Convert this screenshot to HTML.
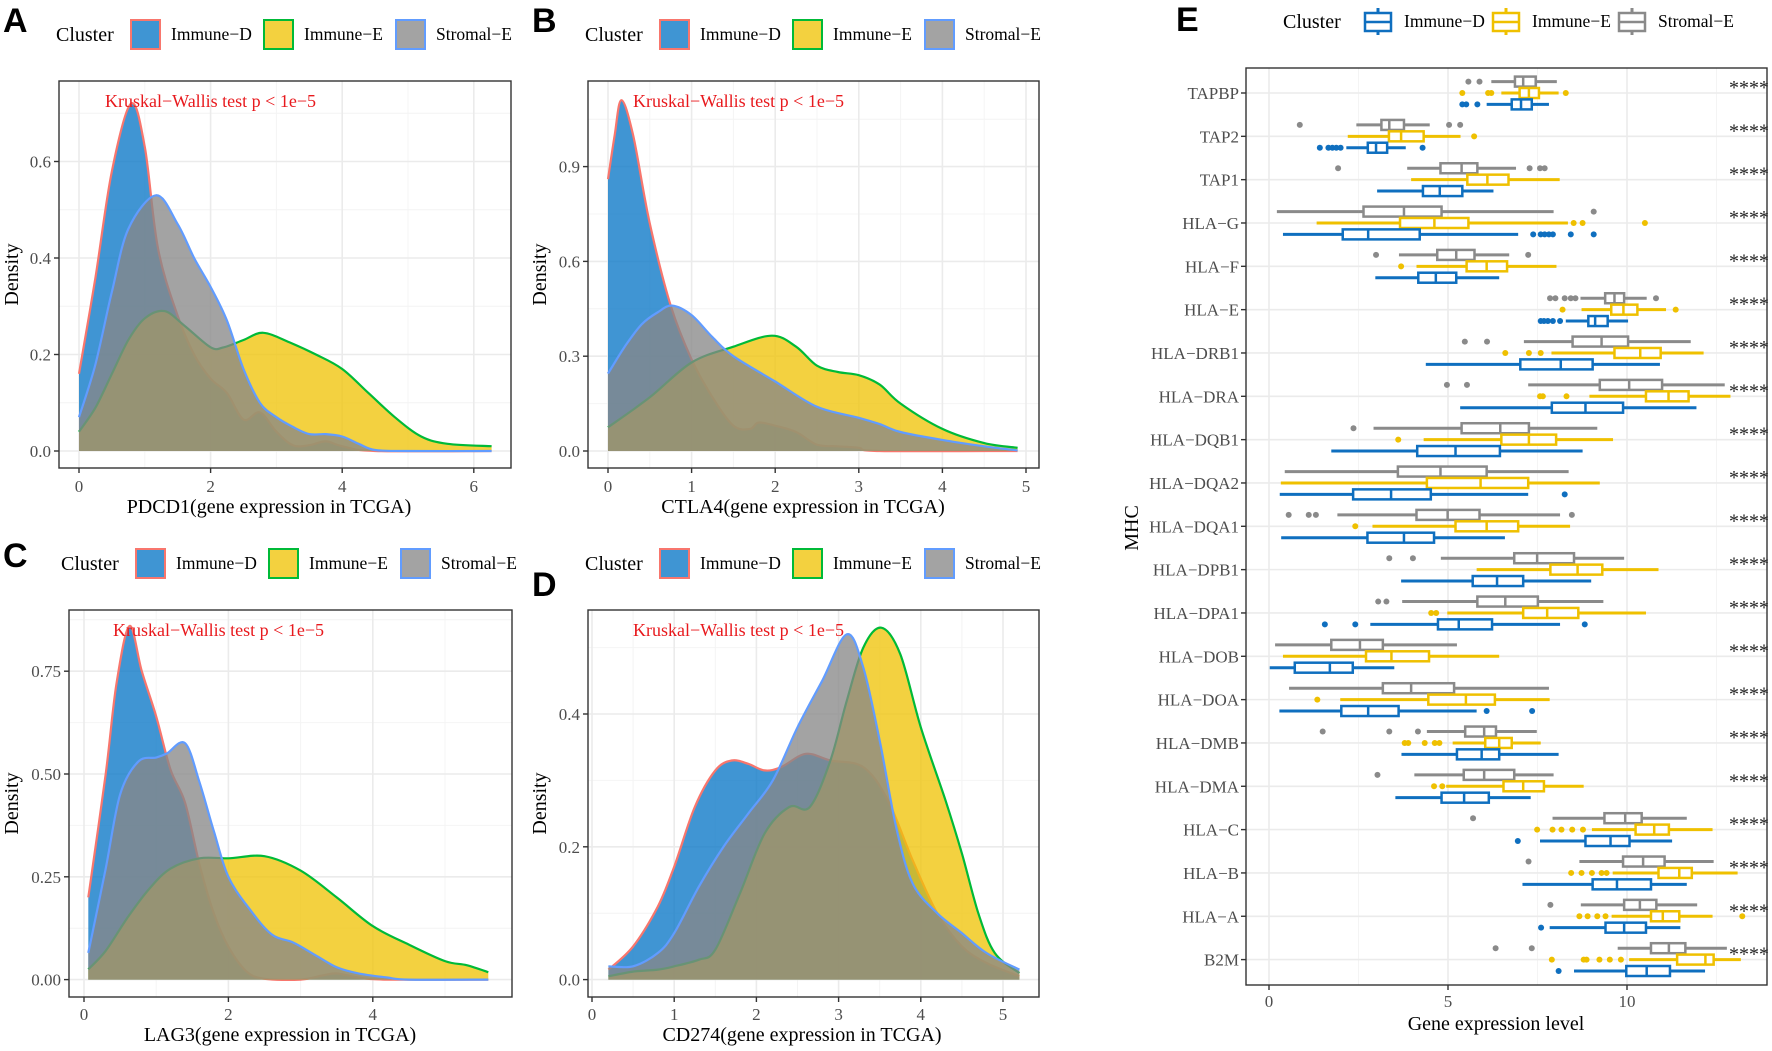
<!DOCTYPE html>
<html><head><meta charset="utf-8">
<style>
html,body{margin:0;padding:0;background:#fff;}
svg{display:block;font-family:"Liberation Serif",serif;}
.tk{font-size:17px;fill:#4d4d4d;}
.ttl{font-size:20px;fill:#000;}
.leg{font-size:17.5px;fill:#000;}
.lt{font-family:"Liberation Sans",sans-serif;font-weight:bold;font-size:34px;fill:#000;}
.kw{font-size:18px;fill:#e8191d;}
.sig{font-size:20px;fill:#222;}
</style></head>
<body>
<svg id="fig" width="1772" height="1051" viewBox="0 0 1772 1051" xmlns="http://www.w3.org/2000/svg">
<g id="marks"></g>
<text class="lt" x="3" y="32">A</text>
<text class="lt" x="532" y="32">B</text>
<text class="lt" x="3" y="567">C</text>
<text class="lt" x="532" y="596">D</text>
<text class="lt" x="1176" y="31">E</text>
</svg>
<script>
// ---------- Panel A: PDCD1 ----------
const aDX=[0,0.25,0.5,0.79,1.0,1.2,1.5,1.75,2.0,2.25,2.5,2.75,3.0,3.25,3.5,3.75,4.0,4.5,6.27];
const aDY=[0.16,0.36,0.58,0.72,0.63,0.42,0.28,0.2,0.15,0.12,0.065,0.08,0.04,0.012,0.012,0.02,0.01,0,0];
const aEX=[0,0.25,0.5,0.75,1.0,1.3,1.6,2.0,2.2,2.5,2.8,3.2,3.6,4.0,4.4,4.8,5.2,5.6,6.27];
const aEY=[0.04,0.09,0.16,0.23,0.275,0.29,0.26,0.215,0.215,0.23,0.245,0.225,0.2,0.17,0.12,0.07,0.03,0.015,0.01];
const aSX=[0,0.25,0.5,0.75,1.17,1.5,1.75,2.0,2.25,2.5,2.75,3.0,3.25,3.5,3.75,4.0,4.25,4.5,5,6.27];
const aSY=[0.07,0.18,0.33,0.46,0.53,0.47,0.4,0.34,0.27,0.17,0.1,0.07,0.05,0.035,0.035,0.03,0.015,0.002,0,0];
const aXTicks=[0,2,4,6];
const aYTicks=[0,0.2,0.4,0.6];
// ---------- Panel B: CTLA4 ----------
const bDX=[0,0.08,0.16,0.3,0.5,0.75,1.0,1.25,1.5,1.7,1.8,2.0,2.25,2.5,2.75,3.0,3.25,4.9];
const bDY=[0.86,1.0,1.11,1.0,0.72,0.46,0.29,0.17,0.08,0.07,0.09,0.08,0.06,0.02,0.015,0.01,0,0];
const bEX=[0,0.5,1.0,1.5,1.96,2.25,2.5,2.75,3.0,3.25,3.5,4.0,4.5,4.9];
const bEY=[0.075,0.17,0.28,0.33,0.365,0.33,0.27,0.25,0.24,0.21,0.15,0.07,0.025,0.01];
const bSX=[0,0.2,0.4,0.6,0.77,1.0,1.25,1.5,2.0,2.5,3.0,3.25,3.5,4.0,4.5,4.9];
const bSY=[0.245,0.33,0.4,0.44,0.46,0.43,0.36,0.3,0.22,0.14,0.105,0.085,0.06,0.035,0.015,0.002];
const bXTicks=[0,1,2,3,4,5];
const bYTicks=[0,0.3,0.6,0.9];
// ---------- Panel C: LAG3 ----------
const cDX=[0.06,0.3,0.45,0.63,0.8,1.0,1.2,1.4,1.6,1.8,2.0,2.25,2.5,3.0,3.3,3.5,3.8,4.2,5.6];
const cDY=[0.2,0.5,0.72,0.86,0.75,0.64,0.51,0.43,0.28,0.16,0.08,0.02,0.002,0,0.01,0.015,0.005,0,0];
const cEX=[0.06,0.3,0.6,0.9,1.2,1.6,2.0,2.5,3.0,3.5,4.0,4.5,5.0,5.3,5.6];
const cEY=[0.025,0.07,0.15,0.22,0.27,0.295,0.295,0.3,0.265,0.2,0.13,0.085,0.045,0.035,0.018];
const cSX=[0.06,0.3,0.5,0.75,1.0,1.15,1.4,1.6,1.8,2.0,2.3,2.6,2.9,3.2,3.5,3.8,4.2,4.5,5.6];
const cSY=[0.065,0.27,0.45,0.53,0.54,0.55,0.575,0.48,0.36,0.25,0.17,0.11,0.09,0.06,0.03,0.015,0.005,0,0];
const cXTicks=[0,2,4];
const cYTicks=[0,0.25,0.5,0.75];
const cYTickLabels=["0.00","0.25","0.50","0.75"];
// ---------- Panel D: CD274 ----------
const dDX=[0.2,0.5,0.8,1.0,1.25,1.5,1.7,1.9,2.1,2.3,2.6,2.9,3.3,3.6,3.9,4.2,4.5,4.8,5.2];
const dDY=[0.015,0.05,0.11,0.17,0.26,0.315,0.33,0.325,0.315,0.32,0.34,0.33,0.32,0.27,0.18,0.1,0.05,0.025,0.005];
const dEX=[0.2,0.5,0.8,1.0,1.3,1.5,1.8,2.1,2.4,2.65,2.9,3.1,3.3,3.52,3.75,4.0,4.3,4.5,4.7,4.9,5.2];
const dEY=[0.005,0.012,0.015,0.02,0.03,0.045,0.13,0.22,0.26,0.26,0.33,0.42,0.5,0.53,0.49,0.38,0.27,0.19,0.1,0.04,0.01];
const dSX=[0.2,0.5,0.8,1.0,1.3,1.6,1.9,2.2,2.5,2.8,3.1,3.3,3.5,3.7,3.9,4.2,4.5,4.8,5.2];
const dSY=[0.02,0.02,0.04,0.07,0.14,0.2,0.25,0.3,0.38,0.45,0.52,0.47,0.36,0.23,0.145,0.1,0.07,0.04,0.015];
const dXTicks=[0,1,2,3,4,5];
const dYTicks=[0,0.2,0.4];
// ---------- Panel E: MHC boxplots ----------
const genes=["TAPBP","TAP2","TAP1","HLA−G","HLA−F","HLA−E","HLA−DRB1","HLA−DRA","HLA−DQB1","HLA−DQA2","HLA−DQA1","HLA−DPB1","HLA−DPA1","HLA−DOB","HLA−DOA","HLA−DMB","HLA−DMA","HLA−C","HLA−B","HLA−A","B2M"];
// [lower whisker, q1, median, q3, upper whisker]
const stromalStats=[[6.21,6.87,7.1,7.45,8.04],[2.44,3.14,3.36,3.77,4.49],[3.86,4.79,5.38,5.82,6.9],[0.22,2.64,3.77,4.82,7.95],[3.63,4.7,5.23,5.74,6.71],[8.7,9.39,9.65,9.92,10.55],[7.12,8.48,9.29,10.03,11.78],[7.24,9.24,10.06,10.98,12.73],[2.92,5.38,6.46,7.26,9.17],[0.44,3.6,4.79,6.08,8.37],[1.91,4.12,4.99,5.88,8.13],[4.8,6.85,7.49,8.52,9.92],[3.72,5.82,6.6,7.51,9.34],[0.17,1.74,2.54,3.18,5.25],[0.56,3.18,3.97,5.17,7.82],[4.41,5.48,6.01,6.34,7.48],[4.06,5.44,6.01,6.85,7.95],[7.92,9.37,9.95,10.41,11.67],[8.67,9.89,10.45,11.05,12.42],[8.71,9.92,10.36,10.82,11.96],[9.74,10.67,11.17,11.63,12.79]];
const immuneEStats=[[6.49,7.0,7.26,7.54,8.09],[2.2,3.35,3.69,4.32,5.35],[3.97,5.54,6.1,6.69,8.12],[1.33,3.66,4.62,5.57,8.35],[4.12,5.52,6.08,6.65,8.03],[8.73,9.56,9.9,10.29,11.09],[7.89,9.65,10.37,10.94,12.14],[8.95,10.53,11.16,11.72,12.89],[4.32,6.49,7.26,8.02,9.61],[0.33,4.41,5.91,7.24,9.24],[2.89,5.21,6.08,6.96,8.41],[5.8,7.86,8.62,9.31,10.88],[4.98,7.1,7.77,8.64,10.53],[0.39,2.71,3.42,4.47,6.43],[1.99,4.45,5.5,6.31,7.84],[5.13,6.04,6.43,6.78,7.59],[4.95,6.55,7.1,7.68,8.79],[9.02,10.24,10.76,11.17,12.39],[9.6,10.88,11.46,11.81,13.09],[9.57,10.67,11.0,11.46,12.39],[10.06,11.4,12.19,12.42,13.18]];
const immuneDStats=[[6.08,6.78,7.04,7.34,7.82],[2.16,2.76,2.99,3.3,3.82],[3.02,4.3,4.77,5.4,6.27],[0.39,2.06,2.77,4.21,6.96],[2.97,4.17,4.66,5.23,6.43],[8.29,8.92,9.11,9.46,10.03],[4.38,7.02,8.15,9.04,10.92],[5.34,7.9,8.84,9.89,11.94],[1.74,4.14,5.21,6.45,8.76],[0.3,2.35,3.41,4.52,7.24],[0.34,2.75,3.77,4.61,6.59],[3.69,5.69,6.37,7.1,9.0],[2.83,4.72,5.3,6.23,8.13],[0.02,0.72,1.7,2.34,3.5],[0.29,2.02,2.77,3.62,5.8],[3.7,5.25,5.94,6.43,8.09],[3.53,4.82,5.45,6.14,7.31],[7.57,8.84,9.54,10.07,11.26],[7.08,9.04,9.72,10.67,11.67],[7.84,9.4,9.92,10.53,11.49],[8.52,9.98,10.55,11.2,12.18]];
const stromalOut=[[5.57,5.88],[0.86,5.03,5.34],[1.93,7.28,7.57,7.7],[9.07],[2.99,7.24],[7.85,8.0,8.26,8.43,8.56,10.81],[5.47,6.09],[4.97,5.53],[2.36],[],[0.55,1.11,1.31,8.46],[3.36,4.02],[3.05,3.28],[],[],[1.5,3.36,4.16],[3.03],[5.7],[7.25],[7.86],[6.33,7.34]];
const immuneEOut=[[5.4,6.12,6.21,8.29],[5.73],[],[8.51,8.76,10.5],[3.69],[8.2,11.36],[6.6,7.26,7.59],[7.57,7.65,8.31],[3.61],[],[2.41],[],[4.53,4.67],[],[1.35],[3.79,3.89,4.35,4.63,4.76],[4.61,4.84],[7.49,7.92,8.17,8.47,8.77],[8.44,8.73,9.02,9.29,9.43],[8.67,8.9,9.17,9.4,13.22],[7.9,8.79,8.87,9.23,9.52,9.83]];
const immuneDOut=[[5.4,5.51,5.82],[1.42,1.66,1.77,1.88,2.0,4.29],[],[7.38,7.59,7.7,7.82,7.93,8.43,9.07],[],[7.59,7.68,7.79,7.93,8.13],[],[],[],[8.26],[],[],[1.56,2.41,8.82],[],[6.08,7.35],[],[],[6.95],[],[7.6],[8.09]];
const eXTicks=[0,5,10];
const eSignif="****";

const NS="http://www.w3.org/2000/svg";
const root=document.getElementById('marks');
function mk(tag,attrs,parent){const el=document.createElementNS(NS,tag);for(const k in attrs)el.setAttribute(k,attrs[k]);(parent||root).appendChild(el);return el;}
function txt(s,attrs,parent){const el=mk('text',attrs,parent);el.textContent=s;return el;}
function smooth(pts){
  let d="";
  for(let i=0;i<pts.length-1;i++){
    const p0=pts[Math.max(i-1,0)],p1=pts[i],p2=pts[i+1],p3=pts[Math.min(i+2,pts.length-1)];
    const c1x=p1[0]+(p2[0]-p0[0])/6,c1y=p1[1]+(p2[1]-p0[1])/6;
    const c2x=p2[0]-(p3[0]-p1[0])/6,c2y=p2[1]-(p3[1]-p1[1])/6;
    d+=` C${c1x.toFixed(1)},${c1y.toFixed(1)} ${c2x.toFixed(1)},${c2y.toFixed(1)} ${p2[0].toFixed(1)},${p2[1].toFixed(1)}`;
  }
  return d;
}
const fillD="rgba(6,117,198,0.77)", fillE="rgba(239,195,6,0.77)", fillS="rgba(135,135,135,0.77)";
const strD="#f8766d", strE="#00ba38", strS="#619cff";

function densityPanel(cfg){
  const g=mk('g',{});
  
  
  const [L,T,R,B]=cfg.rect;
  const px=x=>cfg.x0+cfg.xu*x, py=y=>cfg.y0-cfg.yu*y;
  const bg=mk('rect',{x:L,y:T,width:R-L,height:B-T,fill:'#fff'},g);
  
  
  const clipId='clip'+cfg.id;
  const cp=mk('clipPath',{id:clipId},g);
  mk('rect',{x:L,y:T,width:R-L,height:B-T},cp);
  const gg=mk('g',{'clip-path':`url(#${clipId})`},g);
  
  
  cfg.xMinor.forEach(v=>mk('line',{x1:px(v),x2:px(v),y1:T,y2:B,stroke:'#f4f4f4','stroke-width':1},gg));
  cfg.yMinor.forEach(v=>mk('line',{x1:L,x2:R,y1:py(v),y2:py(v),stroke:'#f4f4f4','stroke-width':1},gg));
  cfg.xt.forEach(v=>mk('line',{x1:px(v),x2:px(v),y1:T,y2:B,stroke:'#ebebeb','stroke-width':1.6},gg));
  cfg.yt.forEach(v=>mk('line',{x1:L,x2:R,y1:py(v),y2:py(v),stroke:'#ebebeb','stroke-width':1.6},gg));
  cfg.series.forEach(s=>{
    const pts=s.x.map((x,i)=>[px(x),py(s.y[i])]);
    const top=`M${pts[0][0].toFixed(1)},${pts[0][1].toFixed(1)}`+smooth(pts);
    const area=`M${px(s.x[0]).toFixed(1)},${py(0).toFixed(1)} L${pts[0][0].toFixed(1)},${pts[0][1].toFixed(1)}`+smooth(pts)+` L${px(s.x[s.x.length-1]).toFixed(1)},${py(0).toFixed(1)} Z`;
    const a=mk('path',{d:area,fill:s.fill,stroke:'none'},gg);
    
    
    const l=mk('path',{d:top,fill:'none',stroke:s.stroke,'stroke-width':2.2},gg);
    
    
  });
  const bd=mk('rect',{x:L,y:T,width:R-L,height:B-T,fill:'none',stroke:'#333','stroke-width':1.4},g);
  
  
  cfg.xt.forEach((v,i)=>{
    mk('line',{x1:px(v),x2:px(v),y1:B,y2:B+5,stroke:'#333','stroke-width':1.4},g);
    const t=txt(String(v),{x:px(v),y:cfg.xLabY,'text-anchor':'middle',class:'tk'},g);
    
    
  });
  cfg.yt.forEach((v,i)=>{
    mk('line',{x1:L-5,x2:L,y1:py(v),y2:py(v),stroke:'#333','stroke-width':1.4},g);
    const t=txt(cfg.ytl[i],{x:L-8,y:py(v)+6,'text-anchor':'end',class:'tk'},g);
    
    
  });
  const xt=txt(cfg.xTitle,{x:cfg.xTitleX,y:cfg.xTitleY,'text-anchor':'middle',class:'ttl'},g);
  
  
  const yt=txt('Density',{x:0,y:0,'text-anchor':'middle',class:'ttl',transform:`translate(${cfg.yTitleX},${(T+B)/2}) rotate(-90)`},g);
  
  
  const kw=txt('Kruskal−Wallis test p < 1e−5',{x:cfg.kwX,y:cfg.kwY,class:'kw'},g);
  
  
  const lg=mk('g',{},g);
  
  
  const lt=txt('Cluster',{x:cfg.legX,y:cfg.legY+7,class:'ttl'},lg);
  
  
  const names=['Immune−D','Immune−E','Stromal−E'];
  const fills=['#3f95d3','#f3d13f','#a3a3a3'], strokes=[strD,strE,strS];
  cfg.legKeys.forEach((kx,i)=>{
    const k=mk('rect',{x:kx,y:cfg.legY-14,width:29,height:29,fill:fills[i],stroke:strokes[i],'stroke-width':2},lg);
    
    
    const t=txt(names[i],{x:kx+40,y:cfg.legY+6,class:'leg'},lg);
    
    
  });
}
function minors(ticks,step,lo,hi){const r=[];for(let v=lo;v<=hi+1e-9;v+=step){if(!ticks.some(t=>Math.abs(t-v)<1e-6))r.push(+v.toFixed(4));}return r;}

densityPanel({id:'A',name:'panel-a-pdcd1',rect:[59,81,511,468],x0:79,xu:65.8,y0:451,yu:482.5,
  xt:aXTicks,yt:aYTicks,ytl:aYTicks.map(v=>v.toFixed(1)),xMinor:minors(aXTicks,1,-1,7),yMinor:minors(aYTicks,0.1,-0.1,0.8),
  xLabY:492,xTitle:'PDCD1(gene expression in TCGA)',xTitleX:269,xTitleY:513,yTitleX:18,kwX:105,kwY:107,
  legX:56,legY:34,legKeys:[131,264,396],
  series:[{name:'immune-d',x:aDX,y:aDY,fill:fillD,stroke:strD},{name:'immune-e',x:aEX,y:aEY,fill:fillE,stroke:strE},{name:'stromal-e',x:aSX,y:aSY,fill:fillS,stroke:strS}]});
densityPanel({id:'B',name:'panel-b-ctla4',rect:[588,81,1039,468],x0:608,xu:83.6,y0:451,yu:316,
  xt:bXTicks,yt:bYTicks,ytl:bYTicks.map(v=>v.toFixed(1)),xMinor:minors(bXTicks,0.5,-0.5,5.5),yMinor:minors(bYTicks,0.15,-0.15,1.2),
  xLabY:492,xTitle:'CTLA4(gene expression in TCGA)',xTitleX:803,xTitleY:513,yTitleX:546,kwX:633,kwY:107,
  legX:585,legY:34,legKeys:[660,793,925],
  series:[{name:'immune-d',x:bDX,y:bDY,fill:fillD,stroke:strD},{name:'immune-e',x:bEX,y:bEY,fill:fillE,stroke:strE},{name:'stromal-e',x:bSX,y:bSY,fill:fillS,stroke:strS}]});
densityPanel({id:'C',name:'panel-c-lag3',rect:[69,610,512,997],x0:84,xu:72.2,y0:979.6,yu:411.2,
  xt:cXTicks,yt:cYTicks,ytl:cYTickLabels,xMinor:minors(cXTicks,1,-1,6),yMinor:minors(cYTicks,0.125,-0.125,0.9),
  xLabY:1020,xTitle:'LAG3(gene expression in TCGA)',xTitleX:280,xTitleY:1041,yTitleX:18,kwX:113,kwY:636,
  legX:61,legY:563,legKeys:[136,269,401],
  series:[{name:'immune-d',x:cDX,y:cDY,fill:fillD,stroke:strD},{name:'immune-e',x:cEX,y:cEY,fill:fillE,stroke:strE},{name:'stromal-e',x:cSX,y:cSY,fill:fillS,stroke:strS}]});
densityPanel({id:'D',name:'panel-d-cd274',rect:[588,610,1039,997],x0:592,xu:82.2,y0:979.6,yu:664,
  xt:dXTicks,yt:dYTicks,ytl:dYTicks.map(v=>v.toFixed(1)),xMinor:minors(dXTicks,0.5,-0.5,5.5),yMinor:minors(dYTicks,0.1,-0.1,0.6),
  xLabY:1020,xTitle:'CD274(gene expression in TCGA)',xTitleX:802,xTitleY:1041,yTitleX:546,kwX:633,kwY:636,
  legX:585,legY:563,legKeys:[660,793,925],
  series:[{name:'immune-d',x:dDX,y:dDY,fill:fillD,stroke:strD},{name:'immune-e',x:dEX,y:dEY,fill:fillE,stroke:strE},{name:'stromal-e',x:dSX,y:dSY,fill:fillS,stroke:strS}]});

(function(){
  const g=mk('g',{});
  
  
  const L=1246,T=68,R=1767,B=985;
  const px=v=>1269+35.8*v, ry=i=>93+43.33*i;
  const clip=mk('clipPath',{id:'clipE'},g);
  mk('rect',{x:L,y:T,width:R-L,height:B-T},clip);
  const gg=mk('g',{'clip-path':'url(#clipE)'},g);
  
  
  [2.5,7.5,12.5].forEach(v=>mk('line',{x1:px(v),x2:px(v),y1:T,y2:B,stroke:'#f4f4f4','stroke-width':1},gg));
  eXTicks.forEach(v=>mk('line',{x1:px(v),x2:px(v),y1:T,y2:B,stroke:'#ebebeb','stroke-width':1.6},gg));
  genes.forEach((n,i)=>mk('line',{x1:L,x2:R,y1:ry(i),y2:ry(i),stroke:'#ebebeb','stroke-width':1.6},gg));
  const groups=[{name:'stromal-e',stats:stromalStats,out:stromalOut,col:'#8a8a8a',off:-11.4},
                {name:'immune-e',stats:immuneEStats,out:immuneEOut,col:'#efc000',off:0},
                {name:'immune-d',stats:immuneDStats,out:immuneDOut,col:'#0f6fbf',off:11.4}];
  genes.forEach((gn,i)=>{
    groups.forEach(gr=>{
      const s=gr.stats[i], y=ry(i)+gr.off, h=10;
      const bx=mk('g',{},gg);
      
      
      mk('line',{x1:px(s[0]),x2:px(s[1]),y1:y,y2:y,stroke:gr.col,'stroke-width':3},bx);
      mk('line',{x1:px(s[3]),x2:px(s[4]),y1:y,y2:y,stroke:gr.col,'stroke-width':3},bx);
      mk('rect',{x:px(s[1]),y:y-h/2,width:px(s[3])-px(s[1]),height:h,fill:'#fff',stroke:gr.col,'stroke-width':2.5},bx);
      mk('line',{x1:px(s[2]),x2:px(s[2]),y1:y-h/2,y2:y+h/2,stroke:gr.col,'stroke-width':2.5},bx);
      gr.out[i].forEach(v=>{
        const c=mk('circle',{cx:px(v),cy:y,r:3,fill:gr.col},gg);
        
        
      });
    });
    const st=txt(eSignif,{x:1729,y:ry(i)+1,class:'sig'},g);
    
    
    mk('line',{x1:L-5,x2:L,y1:ry(i),y2:ry(i),stroke:'#333','stroke-width':1.4},g);
    const lb=txt(gn,{x:L-7,y:ry(i)+6,'text-anchor':'end',class:'tk'},g);
    
    
  });
  const bd=mk('rect',{x:L,y:T,width:R-L,height:B-T,fill:'none',stroke:'#333','stroke-width':1.4},g);
  
  
  eXTicks.forEach(v=>{
    mk('line',{x1:px(v),x2:px(v),y1:B,y2:B+5,stroke:'#333','stroke-width':1.4},g);
    const t=txt(String(v),{x:px(v),y:1007,'text-anchor':'middle',class:'tk'},g);
    
    
  });
  const xt=txt('Gene expression level',{x:1496,y:1030,'text-anchor':'middle',class:'ttl'},g);
  
  
  const yt=txt('MHC',{x:0,y:0,'text-anchor':'middle',class:'ttl',transform:'translate(1138,528) rotate(-90)'},g);
  
  
  const lg=mk('g',{},g);
  
  
  const lt=txt('Cluster',{x:1283,y:28,class:'ttl'},lg);
  
  
  const names=['Immune−D','Immune−E','Stromal−E'], cols=['#0f6fbf','#efc000','#8a8a8a'], kx=[1365,1493,1619];
  kx.forEach((x,i)=>{
    const k=mk('g',{},lg);
    
    
    mk('line',{x1:x+13,x2:x+13,y1:8,y2:35,stroke:cols[i],'stroke-width':3},k);
    mk('rect',{x:x,y:13,width:26,height:18,fill:'#fff',stroke:cols[i],'stroke-width':2.5},k);
    mk('line',{x1:x,x2:x+26,y1:22,y2:22,stroke:cols[i],'stroke-width':2.5},k);
    const t=txt(names[i],{x:x+39,y:27,class:'leg'},lg);
    
    
  });
})();
</script>
</body></html>
